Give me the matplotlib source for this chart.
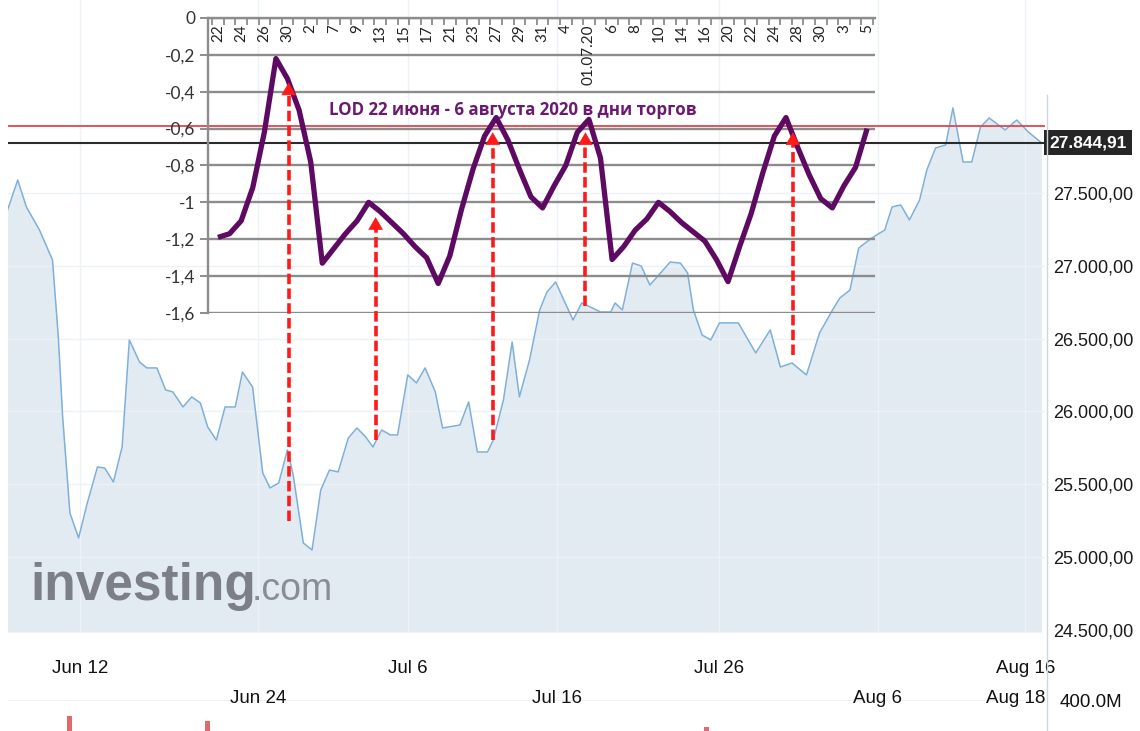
import matplotlib
matplotlib.use("Agg")
import matplotlib.pyplot as plt
from matplotlib import font_manager
from matplotlib.lines import Line2D
from matplotlib.patches import Rectangle

# --- price chart (investing.com background), x = days from Jun 12 ---
price_day = [-5.0, -4.3, -3.7, -2.8, -1.9, -1.5, -1.2, -0.7, -0.1, 0.5,
             1.2, 1.7, 2.3, 2.9, 3.4, 4.1, 4.6, 5.3, 5.9, 6.4,
             7.1, 7.7, 8.3, 8.8, 9.4, 10.0, 10.7, 11.2, 11.9, 12.6,
             13.1, 13.7, 14.3, 14.7, 15.4, 16.0, 16.6, 17.2, 17.8, 18.5,
             19.1, 19.7, 20.2, 20.8, 21.4, 21.9, 22.6, 23.2, 23.8, 24.5,
             25.0, 26.2, 26.8, 27.4, 28.1, 28.5, 29.2, 29.8, 30.3, 31.0,
             31.7, 32.2, 32.8, 33.3, 34.0, 34.6, 35.2, 35.9, 36.6, 36.9,
             37.4, 38.1, 38.7, 39.3, 40.1, 40.7, 41.4, 41.9, 42.3, 42.9,
             43.5, 44.1, 45.4, 46.6, 47.6, 48.3, 49.1, 50.1, 51.0, 51.9,
             52.4, 53.1, 53.7, 54.6, 55.5, 56.0, 56.6, 57.2, 57.9, 58.4,
             59.0, 59.7, 60.2, 60.9, 61.5, 62.1, 62.7, 63.8, 64.6, 65.4, 66.3]
price_val = [27383, 27589, 27404, 27246, 27040, 26511, 25962, 25303, 25132, 25372,
             25619, 25612, 25516, 25756, 26491, 26340, 26299, 26299, 26148, 26134,
             26031, 26100, 26058, 25894, 25804, 26031, 26031, 26271, 26168, 25578,
             25475, 25509, 25736, 25564, 25097, 25049, 25461, 25598, 25585, 25818,
             25887, 25825, 25756, 25873, 25839, 25839, 26251, 26196, 26299, 26134,
             25887, 25907, 26065, 25722, 25722, 25804, 26079, 26477, 26100, 26354,
             26697, 26820, 26889, 26779, 26628, 26745, 26717, 26683, 26683, 26745,
             26697, 27019, 26999, 26868, 26958, 27026, 27019, 26951, 26697, 26525,
             26491, 26608, 26608, 26402, 26560, 26305, 26333, 26251, 26539, 26697,
             26779, 26834, 27122, 27191, 27246, 27404, 27418, 27315, 27452, 27658,
             27809, 27830, 28084, 27713, 27713, 27953, 28015, 27933, 28001, 27919, 27845]
last_price = 27844.91
red_level = 27960
price_ticks = [24500, 25000, 25500, 26000, 26500, 27000, 27500]

date_top = ["Jun 12", "Jul 6", "Jul 26", "Aug 16"]
date_top_pos = [0.0, 22.6, 44.1, 65.2]
date_bot = ["Jun 24", "Jul 16", "Aug 6", "Aug 18"]
date_bot_pos = [12.3, 32.9, 55.0, 64.5]

vol_day = [-0.7, 8.8, 43.2]
vol_val = [200, 130, 55]  # millions, only the tips are visible

# --- LOD overlay ---
lod_labels = ["22", "24", "26", "30", "2", "7", "9", "13", "15", "17", "21", "23",
              "27", "29", "31", "4", "01.07.20", "6", "8", "10", "14", "16", "20",
              "22", "24", "28", "30", "3", "5"]
lod_vals = [-1.19, -1.17, -1.10, -0.92, -0.62, -0.22, -0.33, -0.50, -0.78, -1.33,
            -1.25, -1.17, -1.10, -1.00, -1.05, -1.11, -1.17, -1.24, -1.30, -1.44,
            -1.29, -1.04, -0.82, -0.64, -0.54, -0.66, -0.82, -0.97, -1.03, -0.91,
            -0.80, -0.62, -0.55, -0.76, -1.31, -1.24, -1.15, -1.09, -1.00, -1.05,
            -1.11, -1.16, -1.21, -1.31, -1.43, -1.24, -1.06, -0.84, -0.64, -0.54,
            -0.70, -0.85, -0.98, -1.03, -0.91, -0.81, -0.60]
lod_yticks = [0, -0.2, -0.4, -0.6, -0.8, -1.0, -1.2, -1.4, -1.6]
lod_title = "LOD 22 июня - 6 августа 2020 в дни торгов"

arrow_x = [6.1, 13.6, 23.7, 31.7, 49.6]
arrow_from = [-2.73, -2.29, -2.29, -1.56, -1.83]
arrow_to = [-0.35, -1.08, -0.62, -0.62, -0.62]

W, H = 1140, 731
plt.rcParams['font.family'] = ['Liberation Sans', 'DejaVu Sans']

fonts = {f.name for f in font_manager.fontManager.ttflist}
narrow = 'Liberation Sans Narrow' in fonts


def box(x0, y0, x1, y1):
    """pixel box (top-left origin) -> figure fraction rect"""
    return [x0 / W, 1 - y1 / H, (x1 - x0) / W, (y1 - y0) / H]


def money(v):
    return f"{v:,.2f}".replace(",", " ").replace(".", ",").replace(" ", ".")


fig = plt.figure(figsize=(W / 100, H / 100), dpi=100, facecolor='white')

# volume strip at the very bottom (behind everything)
axv = fig.add_axes(box(8, 700, 1045, 731))
axv.set_zorder(0)
axv.set_xlim(-4.97, 66.55)
axv.set_ylim(0, 400)
axv.bar(vol_day, vol_val, width=0.35, color='#e06a6a')
axv.patch.set_alpha(0)
for k, s in axv.spines.items():
    s.set_visible(k == 'top')
axv.spines['top'].set_color('#f0f2f5')
axv.set_xticks([])
axv.set_yticks([])

# background price chart
ax = fig.add_axes(box(8, 0, 1045, 632))
ax.set_zorder(1)
ax.patch.set_alpha(0)
ymin, ymax = 24486, 28825
ax.set_xlim(-4.97, 66.55)
ax.set_ylim(ymin, ymax)
ax.fill_between(price_day, price_val, ymin, color='#e3ebf2', lw=0, zorder=1)
for p in price_ticks[1:]:
    ax.axhline(p, color='#edf2f7', lw=1, zorder=1.5)
for d in date_top_pos + date_bot_pos[:-1]:
    ax.axvline(d, color='#edf2f7', lw=1, zorder=1.5)
ax.plot(price_day, price_val, color='#7eb0da', lw=1.1, zorder=2)
ax.axhline(red_level, color='#e0474c', lw=1.3, zorder=3)
ax.axhline(last_price, color='#2b2b2b', lw=1.5, zorder=3)
for s in ax.spines.values():
    s.set_visible(False)
ax.set_xticks([])
ax.yaxis.tick_right()
ax.set_yticks(price_ticks)
ax.set_yticklabels([money(p) for p in price_ticks])
ax.tick_params(axis='y', length=0, pad=6, labelsize=13, labelcolor='#1a1a1a')
ax.text(1.004, last_price, money(last_price),
        transform=ax.get_yaxis_transform(), ha='left', va='center', color='white',
        fontsize=12.5, fontweight='bold',
        bbox=dict(boxstyle='square,pad=0.3', fc='#262626', ec='none'))
for lab, d in zip(date_top, date_top_pos):
    ax.text(d, -0.057, lab, transform=ax.get_xaxis_transform(), ha='center',
            va='center', fontsize=13.5, color='#111111')
for lab, d in zip(date_bot, date_bot_pos):
    ax.text(d, -0.105, lab, transform=ax.get_xaxis_transform(), ha='center',
            va='center', fontsize=13.5, color='#111111')
ax.text(1.014, -0.112, "400.0M", transform=ax.transAxes, ha='left', va='center',
        fontsize=13.5, color='#111111')

fig.add_artist(Line2D([1047 / W] * 2, [0, 1 - 95 / H], color='#cdd6df', lw=1))

# investing.com logo
base = 1 - 600 / H
if narrow:
    fig.text(30 / W, base, "investing", fontsize=44, fontweight='bold',
             family='Liberation Sans Narrow', color='#7c8086', va='baseline')
    fig.text(252 / W, base, ".com", fontsize=32, family='Liberation Sans Narrow',
             color='#8a8e94', va='baseline')
else:
    fig.text(30 / W, base, "investing", fontsize=37, fontweight='bold',
             color='#7c8086', va='baseline')
    fig.text(252 / W, base, ".com", fontsize=27, color='#8a8e94', va='baseline')
fig.add_artist(Rectangle((178 / W, 1 - 557 / H), 10 / W, 9 / H, color='#e9bb8c', lw=0))

# LOD overlay chart
ax2 = fig.add_axes(box(208, 18, 875, 313))
ax2.set_zorder(2)
ax2.patch.set_alpha(0)
ax2.set_xlim(-0.86, 56.68)
ax2.set_ylim(-1.6, 0)
gray = '#8c8c8c'
ax2.set_yticks(lod_yticks)
ax2.set_yticklabels([f"{v:g}".replace(".", ",") for v in lod_yticks])
ax2.grid(axis='y', color=gray, lw=1.7)
ax2.set_axisbelow(True)
for k, s in ax2.spines.items():
    s.set_visible(k in ('top', 'left'))
    s.set_color(gray)
    s.set_linewidth(1.7)
ax2.tick_params(axis='y', direction='out', length=6, width=1.4, color=gray,
                labelsize=12.5, labelcolor='#333333', pad=3)
for t in ax2.get_yticklabels():
    t.set_family(['Lato', 'DejaVu Sans'])
ax2.xaxis.set_ticks_position('top')
ax2.set_xticks([i - 0.5 for i in range(len(lod_vals) + 1)])
ax2.tick_params(axis='x', direction='in', length=5, width=1.3, color=gray,
                labeltop=False, labelbottom=False)
for k, lab in enumerate(lod_labels):
    ax2.text(2 * k, -0.035, lab, rotation=90, ha='center', va='top', fontsize=11,
             family=['Lato', 'DejaVu Sans'], color='#222222')

ax2.plot(range(len(lod_vals)), lod_vals, color='#5e0a62', lw=3.8, zorder=5,
         solid_capstyle='butt')
ax2.text(25.45, -0.50, lod_title, ha='center', va='center', color='#6a1b6f',
         fontsize=12.2, fontweight='bold', family=['Open Sans', 'DejaVu Sans'], zorder=6)

for x, y0, y1 in zip(arrow_x, arrow_from, arrow_to):
    ax2.plot([x, x], [y0, y1 - 0.03], color='#ff1a1a', lw=2.6,
             ls=(0, (2.9, 1.2)), clip_on=False, zorder=7)
    ax2.annotate('', xy=(x, y1), xytext=(x, y1 - 0.05),
                 arrowprops=dict(arrowstyle='-|>,head_length=0.6,head_width=0.35',
                                 color='#ff1a1a', lw=0.5, mutation_scale=14,
                                 shrinkA=0, shrinkB=0),
                 annotation_clip=False, zorder=7)

fig.savefig("out.png", dpi=100)
